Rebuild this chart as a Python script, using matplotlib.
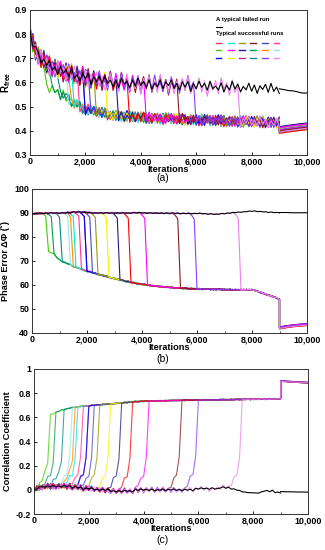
import numpy as np
import matplotlib.pyplot as plt
from matplotlib.ticker import FuncFormatter, MultipleLocator

plt.rcParams["font.family"] = ["Liberation Sans", "DejaVu Sans"]
plt.rcParams["mathtext.fontset"] = "custom"
plt.rcParams["mathtext.rm"] = "Liberation Sans:bold"
plt.rcParams["mathtext.bf"] = "Liberation Sans:bold"

# iterations sampled every 100 up to 9000, then the smooth tail 9000..10000
iters = np.arange(0, 9001, 100)
tail_iters = np.arange(9000, 10001, 100)

# switch iteration and colour of each typical successful run
switch_iter = [500, 750, 1050, 1300, 1450, 1600, 1750, 1900, 2000, 2150,
               2400, 2700, 3100, 3500, 4100, 5300, 6000, 7500]
run_colors = ["#44cc00", "#00a050", "#008b8b", "#90e8e8", "#ff8c00", "#00e5e5",
              "#ff3399", "#b03090", "#0000ff", "#4646c8", "#999900", "#f5f000",
              "#1e1e8c", "#ff0000", "#ff00ff", "#8b1a1a", "#8a3cff", "#ee82ee"]
# legend grid (3 rows x 6), as in the figure
legend_colors = [["#ff3366", "#00e5e5", "#999900", "#8b1a1a", "#4646c8", "#ff3399"],
                 ["#44cc00", "#ff00ff", "#1e1e8c", "#00a050", "#ff8c00", "#90e8e8"],
                 ["#0000ff", "#f5f000", "#b03090", "#008b8b", "#8a3cff", "#ee82ee"]]

# wiggle (unit amplitude)
wiggle = [0.6, -0.8, 0.3, -0.4, 0.9, -0.6, 0.2, -0.9, 0.7, -0.3,
          0.5, -0.7, 1.0, -0.5, 0.1, -0.8, 0.6, -0.2, 0.8, -1.0,
          0.4, -0.3, 0.7, -0.6, 0.9, -0.4, 0.2, -0.7, 0.5, -0.9,
          0.8, -0.2, 0.3, -0.8, 0.6, -0.5, 1.0, -0.3, 0.4, -0.6,
          0.7, -0.9, 0.2, -0.4, 0.8, -0.7, 0.5, -0.1, 0.9, -0.6,
          0.3, -0.8, 0.6, -0.3, 0.7, -1.0, 0.4, -0.5, 0.8, -0.2,
          0.5, -0.7, 0.9, -0.4, 0.1, -0.6, 0.7, -0.9, 0.3, -0.5,
          1.0, -0.3, 0.6, -0.8, 0.2, -0.4, 0.8, -0.6, 0.5, -0.9,
          0.4, -0.2, 0.7, -0.7, 0.9, -0.5, 0.3, -0.8, 0.6, -0.4, 0.8]
tail_offset = [0.0, 0.3, -0.2, 0.6, 0.1, -0.4, 0.8, 0.2, -0.1, 0.5,
               -0.3, 0.4, 0.9, -0.5, 0.7, 0.0, 0.3, -0.2]

# (a) R free
ra_unconv = [0.80, 0.76, 0.73, 0.71, 0.70, 0.69, 0.68, 0.67, 0.665, 0.66, 0.655,
             0.65, 0.645, 0.64, 0.64, 0.635, 0.63, 0.63, 0.625, 0.625, 0.62,
             0.62, 0.615, 0.615, 0.61, 0.61, 0.61, 0.605, 0.605, 0.605, 0.60,
             0.60, 0.60, 0.60, 0.598, 0.598, 0.597, 0.596, 0.596, 0.595, 0.595,
             0.595, 0.594, 0.594, 0.593, 0.593, 0.592, 0.592, 0.591, 0.591, 0.59,
             0.59, 0.59, 0.589, 0.589, 0.588, 0.588, 0.587, 0.587, 0.586, 0.586,
             0.586, 0.585, 0.585, 0.585, 0.584, 0.584, 0.583, 0.583, 0.582, 0.582,
             0.582, 0.581, 0.581, 0.58, 0.58, 0.58, 0.579, 0.579, 0.578, 0.578,
             0.578, 0.577, 0.577, 0.576, 0.576, 0.576, 0.575, 0.575, 0.574, 0.574]
ra_conv = [0.75, 0.72, 0.69, 0.66, 0.63, 0.60, 0.59, 0.58, 0.57, 0.565, 0.56,
           0.55, 0.545, 0.535, 0.53, 0.52, 0.515, 0.51, 0.50, 0.495, 0.49,
           0.487, 0.484, 0.481, 0.478, 0.475, 0.473, 0.471, 0.469, 0.467, 0.465,
           0.464, 0.463, 0.462, 0.461, 0.460, 0.459, 0.458, 0.457, 0.456, 0.455,
           0.455, 0.454, 0.454, 0.453, 0.453, 0.452, 0.452, 0.451, 0.451, 0.450,
           0.450, 0.449, 0.449, 0.448, 0.448, 0.447, 0.447, 0.446, 0.446, 0.445,
           0.445, 0.445, 0.444, 0.444, 0.443, 0.443, 0.443, 0.442, 0.442, 0.441,
           0.441, 0.441, 0.440, 0.440, 0.440, 0.439, 0.439, 0.439, 0.438, 0.438,
           0.438, 0.437, 0.437, 0.437, 0.436, 0.436, 0.436, 0.435, 0.435, 0.435]
ra_tail = [0.400, 0.401, 0.403, 0.405, 0.406, 0.408, 0.409, 0.411, 0.412, 0.413, 0.415]
ra_fail_tail = [0.574, 0.572, 0.570, 0.567, 0.566, 0.565, 0.563, 0.560, 0.557, 0.556, 0.557]

# (b) phase error
pb_unconv = [89.6, 89.7, 89.8, 89.8, 89.9, 89.9, 89.9, 90.0, 90.0, 90.0, 90.0,
             90.0, 90.1, 90.1, 90.2, 90.3, 90.4, 90.5, 90.4, 90.3, 90.2,
             90.1, 90.1, 90.0, 90.0, 90.0, 90.0, 90.0, 90.0, 90.0, 90.0,
             90.0, 90.0, 90.0, 90.0, 90.0, 90.0, 90.1, 90.1, 90.1, 90.0,
             90.0, 90.0, 90.0, 90.0, 90.0, 89.9, 89.9, 89.9, 89.9, 89.9,
             89.9, 89.9, 89.9, 89.8, 89.8, 89.8, 89.8, 89.8, 89.8, 89.8,
             89.8, 89.7, 89.7, 89.6, 89.6, 89.5, 89.5, 89.6, 89.7, 89.8,
             89.9, 90.0, 90.1, 90.2, 90.3, 90.4, 90.5, 90.6, 90.7, 90.8,
             90.8, 90.7, 90.6, 90.5, 90.4, 90.3, 90.3, 90.2, 90.2, 90.2]
pb_conv = [80.0, 79.0, 78.0, 77.0, 76.0, 75.0, 74.0, 73.5, 73.0, 71.5, 70.5,
           69.8, 69.3, 68.8, 68.3, 67.8, 67.4, 67.0, 66.6, 66.2, 65.8,
           65.5, 65.1, 64.8, 64.5, 64.2, 63.9, 63.6, 63.3, 63.0, 62.7,
           62.4, 62.2, 61.9, 61.6, 61.4, 61.1, 60.9, 60.7, 60.5, 60.3,
           60.1, 60.0, 59.8, 59.7, 59.5, 59.4, 59.3, 59.2, 59.1, 59.0,
           58.9, 58.8, 58.8, 58.7, 58.6, 58.6, 58.5, 58.5, 58.4, 58.4,
           58.4, 58.3, 58.3, 58.3, 58.2, 58.2, 58.2, 58.2, 58.1, 58.1,
           58.1, 58.1, 58.0, 58.0, 58.0, 58.0, 58.0, 58.0, 58.0, 58.0,
           57.8, 57.4, 57.0, 56.6, 56.2, 55.8, 55.4, 55.0, 54.6, 54.0]
pb_tail = [42.0, 42.2, 42.4, 42.6, 42.7, 42.9, 43.0, 43.1, 43.2, 43.3, 43.4]
pb_fail_tail = [90.2, 90.2, 90.2, 90.2, 90.1, 90.1, 90.1, 90.1, 90.1, 90.1, 90.1]

# (c) correlation coefficient
pc_unconv = [0.00, 0.01, 0.02, 0.02, 0.03, 0.03, 0.03, 0.03, 0.03, 0.03, 0.03,
             0.03, 0.03, 0.03, 0.02, 0.02, 0.02, 0.02, 0.01, 0.01, 0.01,
             0.01, 0.01, 0.00, 0.00, 0.00, 0.00, 0.00, -0.01, -0.01, -0.01,
             -0.01, -0.01, -0.01, -0.01, -0.01, -0.01, 0.00, 0.00, 0.00, 0.00,
             0.00, 0.00, 0.00, 0.00, 0.00, 0.00, 0.00, 0.00, 0.00, 0.00,
             0.00, 0.00, 0.00, 0.00, 0.00, 0.00, 0.00, 0.00, 0.01, 0.01,
             0.01, 0.01, 0.01, 0.01, 0.01, 0.01, 0.01, 0.02, 0.02, 0.02,
             0.02, 0.01, 0.00, 0.00, -0.01, -0.01, -0.02, -0.02, -0.03, -0.02,
             -0.03, -0.02, -0.02, -0.01, -0.01, -0.01, -0.01, -0.02, -0.02, -0.02]
pc_conv = [0.50, 0.52, 0.55, 0.58, 0.60, 0.62, 0.625, 0.63, 0.64, 0.65, 0.66,
           0.665, 0.67, 0.675, 0.68, 0.685, 0.688, 0.69, 0.692, 0.694, 0.696,
           0.698, 0.70, 0.702, 0.704, 0.706, 0.708, 0.71, 0.712, 0.714, 0.716,
           0.718, 0.72, 0.722, 0.724, 0.726, 0.728, 0.73, 0.731, 0.732, 0.733,
           0.734, 0.735, 0.735, 0.736, 0.736, 0.737, 0.737, 0.738, 0.738, 0.739,
           0.739, 0.740, 0.740, 0.741, 0.741, 0.742, 0.742, 0.742, 0.743, 0.743,
           0.743, 0.744, 0.744, 0.744, 0.745, 0.745, 0.745, 0.746, 0.746, 0.746,
           0.747, 0.747, 0.747, 0.748, 0.748, 0.748, 0.749, 0.749, 0.749, 0.750,
           0.750, 0.750, 0.751, 0.751, 0.751, 0.752, 0.752, 0.752, 0.753, 0.755]
pc_tail = [0.900, 0.898, 0.897, 0.895, 0.894, 0.892, 0.891, 0.889, 0.888, 0.887, 0.886]
pc_fail_tail = [-0.015, -0.015, -0.016, -0.016, -0.017, -0.017, -0.018, -0.018,
                -0.018, -0.019, -0.019]

# fraction of the jump already made in the steps just before the switch
prof_a = []
prof_b = [0.02, 0.08]
prof_c = [0.06, 0.12, 0.18, 0.35]


def run_trace(unconv, conv, s, prof, jit, amp_u, amp_c):
    unconv = np.asarray(unconv)
    conv = np.asarray(conv)
    y = unconv + amp_u * jit
    for k, f in enumerate(prof):
        i = s - len(prof) + k
        if i >= 0:
            y[i] = unconv[i] + f * (conv[i] - unconv[i]) + amp_u * jit[i]
    y[s:] = conv[s:] + amp_c * jit[s:]
    return y


def draw_panel(ax, unconv, conv, tail, fail_tail, prof, amps, tail_scale, alpha):
    amp_u, amp_c, amp_f = amps
    jit_f = np.roll(np.array(wiggle), 3)
    fail = np.asarray(unconv) + amp_f * jit_f
    ax.plot(iters, fail, color="black", lw=0.8, zorder=3)
    ax.plot(tail_iters, fail_tail, color="black", lw=0.8, zorder=3)
    for k, (sw, c) in enumerate(zip(switch_iter, run_colors)):
        s = int(round((sw + 50) / 100.0))
        jit = np.roll(np.array(wiggle), 7 * k) * (1 if k % 2 == 0 else -1)
        y = run_trace(unconv, conv, s, prof, jit, amp_u, amp_c)
        yt = np.asarray(tail) + tail_offset[k] * tail_scale
        ax.plot(np.concatenate([iters, tail_iters]), np.concatenate([y, yt]),
                color=c, lw=0.8, alpha=alpha, zorder=2)


def style(ax, ylo, yhi, ystep):
    ax.set_xlim(0, 10000)
    ax.set_ylim(ylo, yhi)
    ax.xaxis.set_major_locator(MultipleLocator(2000))
    ax.xaxis.set_minor_locator(MultipleLocator(1000))
    ax.yaxis.set_major_locator(MultipleLocator(ystep))
    ax.xaxis.set_major_formatter(FuncFormatter(lambda v, p: "{:,.0f}".format(v)))
    ax.yaxis.set_major_formatter(FuncFormatter(lambda v, p: "%g" % round(v, 3)))
    ax.tick_params(direction="in", length=2.5, width=0.6, labelsize=6.4, pad=2)
    ax.tick_params(axis="x", pad=1.5)
    ax.tick_params(which="minor", direction="in", length=1.5, width=0.5)
    for lab in ax.get_xticklabels() + ax.get_yticklabels():
        lab.set_fontweight("bold")
    for sp in ax.spines.values():
        sp.set_linewidth(0.7)
        sp.set_color("#333333")
    ax.set_xlabel("Iterations", fontsize=6.6, fontweight="bold", labelpad=-0.5)


fig = plt.figure(figsize=(3.25, 5.5), dpi=100)
ax1 = fig.add_axes([30 / 325, 1 - 155 / 550, 277 / 325, 145 / 550])
ax2 = fig.add_axes([32 / 325, 1 - 333 / 550, 275 / 325, 144 / 550])
ax3 = fig.add_axes([34 / 325, 1 - 514 / 550, 274 / 325, 145 / 550])

draw_panel(ax1, ra_unconv, ra_conv, ra_tail, ra_fail_tail, prof_a,
           (0.042, 0.024, 0.024), 0.02, 1.0)
draw_panel(ax2, pb_unconv, pb_conv, pb_tail, pb_fail_tail, prof_b,
           (0.25, 0.25, 0.15), 0.6, 1.0)
draw_panel(ax3, pc_unconv, pc_conv, pc_tail, pc_fail_tail, prof_c,
           (0.025, 0.004, 0.008), 0.004, 0.75)

style(ax1, 0.3, 0.9, 0.1)
style(ax2, 40, 100, 10)
style(ax3, -0.2, 1.0, 0.2)

ax1.set_ylabel(r"$\mathbf{R_{free}}$", fontsize=7, labelpad=1)
ax2.set_ylabel("Phase Error \u0394\u03a6 (\u02da)", fontsize=6.6, fontweight="bold", labelpad=3)
ax3.set_ylabel("Correlation Coefficient", fontsize=6.6, fontweight="bold", labelpad=3)

# legend of panel (a), drawn by hand like the original
ax1.text(0.671, 0.935, "A typical failed run", transform=ax1.transAxes,
         fontsize=4.3, fontweight="bold", va="center")
ax1.plot([0.671, 0.693], [0.885, 0.885], transform=ax1.transAxes, color="black", lw=0.8)
ax1.text(0.671, 0.836, "Typical successful runs", transform=ax1.transAxes,
         fontsize=4.3, fontweight="bold", va="center")
col_x = [0.671, 0.715, 0.755, 0.795, 0.838, 0.880]
row_y = [0.772, 0.722, 0.670]
for r, row in enumerate(legend_colors):
    for c, col in enumerate(row):
        ax1.plot([col_x[c], col_x[c] + 0.02], [row_y[r], row_y[r]],
                 transform=ax1.transAxes, color=col, lw=1.0)

fig.text(0.5, 1 - 178.5 / 550, "(a)", ha="center", va="center", fontsize=7.5)
fig.text(0.5, 1 - 358.5 / 550, "(b)", ha="center", va="center", fontsize=7.5)
fig.text(0.5, 1 - 540 / 550, "(c)", ha="center", va="center", fontsize=7.5)

fig.savefig("out.png", dpi=100)
